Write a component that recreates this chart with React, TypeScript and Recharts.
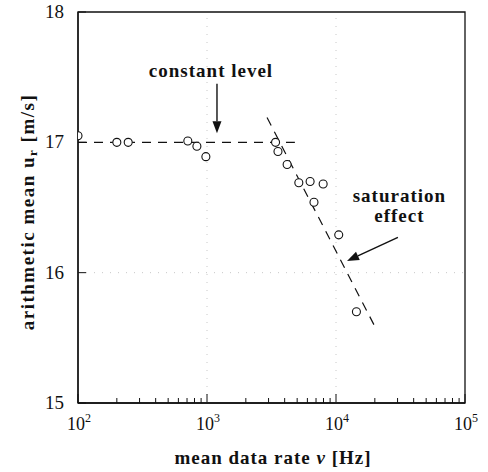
import React from 'react';
import {
  ComposedChart, Scatter, Line, XAxis, YAxis, ReferenceLine, ReferenceArea, ReferenceDot, Label
} from 'recharts';

// measured points (mean data rate in Hz, arithmetic mean in m/s)
const rates = [100, 200, 245, 710, 835, 980, 3400, 3550, 4180, 5150, 6300, 7950, 6750, 10500, 14400];
const means = [17.05, 17.0, 17.0, 17.01, 16.97, 16.89, 17.0, 16.93, 16.83, 16.69, 16.7, 16.68, 16.54, 16.29, 15.7];

// dashed guide lines
const levelX = [100, 4800];
const levelY = [17, 17];
const slopeX = [2920, 19700];
const slopeY = [17.19, 15.6];

const xTicks = [
  100, 200, 300, 400, 500, 600, 700, 800, 900,
  1000, 2000, 3000, 4000, 5000, 6000, 7000, 8000, 9000,
  10000, 20000, 30000, 40000, 50000, 60000, 70000, 80000, 90000,
  100000,
];
const yTicks = [15, 16, 17, 18];

const points = rates.map((x, i) => ({ x, y: means[i] }));
const levelLine = levelX.map((x, i) => ({ x, y: levelY[i] }));
const slopeLine = slopeX.map((x, i) => ({ x, y: slopeY[i] }));

const txt: React.CSSProperties = { fontFamily: 'Liberation Serif, Times New Roman, DejaVu Serif, serif', fill: '#111' };
const bold: React.CSSProperties = { ...txt, fontWeight: 'bold', fontSize: 19, letterSpacing: 1 };

const XTick = (props: any) => {
  const { x, y, payload } = props;
  const v = payload.value;
  const exp = Math.round(Math.log10(v));
  const major = Math.abs(Math.log10(v) - exp) < 1e-6;
  return (
    <g>
      <line x1={x} y1={y} x2={x} y2={y - (major ? 9 : 5)} stroke="#111" strokeWidth={1} />
      {major && (
        <text x={x + 1} y={y + 27} textAnchor="middle" style={{ ...txt, fontSize: 18 }}>
          10<tspan dy={-8} style={{ fontSize: 12 }}>{exp}</tspan>
        </text>
      )}
    </g>
  );
};

const YTick = (props: any) => {
  const { x, y, payload } = props;
  return (
    <g>
      <line x1={x} y1={y} x2={x + 8} y2={y} stroke="#111" strokeWidth={1} />
      <text x={x - 14} y={y + 6} textAnchor="end" style={{ ...txt, fontSize: 19 }}>
        {payload.value}
      </text>
    </g>
  );
};

const Arrow = (props: any) => {
  const { x1, y1, x2, y2 } = props;
  const a = Math.atan2(y2 - y1, x2 - x1);
  const len = 12;
  const w = 4.5;
  const bx = x2 - len * Math.cos(a);
  const by = y2 - len * Math.sin(a);
  const px = -Math.sin(a) * w;
  const py = Math.cos(a) * w;
  return (
    <g>
      <line x1={x1} y1={y1} x2={bx} y2={by} stroke="#111" strokeWidth={1.4} />
      <polygon points={`${x2},${y2} ${bx + px},${by + py} ${bx - px},${by - py}`} fill="#111" />
    </g>
  );
};

const Circle = (props: any) => (
  <circle cx={props.cx} cy={props.cy} r={4} fill="#fff" stroke="#111" strokeWidth={1.1} />
);

const App = () => (
  <div style={{ position: 'absolute', left: 0, top: 0, background: '#fff' }}>
    <ComposedChart width={488} height={472} margin={{ top: 12, right: 23, left: 0, bottom: 0 }}>
      <XAxis
        dataKey="x"
        type="number"
        scale="log"
        domain={[100, 100000]}
        ticks={xTicks}
        interval={0}
        allowDataOverflow
        height={69}
        tickLine={false}
        tickSize={0}
        tickMargin={0}
        tick={<XTick />}
        axisLine={{ stroke: '#111', strokeWidth: 1.3 }}
      >
        <Label
          content={() => (
            <text x={273} y={464} textAnchor="middle" style={bold}>
              mean data rate <tspan style={{ fontStyle: 'italic' }}>ν</tspan> [Hz]
            </text>
          )}
        />
      </XAxis>
      <YAxis
        type="number"
        domain={[15, 18]}
        ticks={yTicks}
        allowDataOverflow
        width={78}
        tickLine={false}
        tickSize={0}
        tickMargin={0}
        tick={<YTick />}
        axisLine={{ stroke: '#111', strokeWidth: 1.3 }}
      >
        <Label
          content={() => (
            <text
              x={27}
              y={212}
              transform="rotate(-90 27 212)"
              textAnchor="middle"
              dominantBaseline="central"
              style={{ ...bold, letterSpacing: 1.5 }}
            >
              arithmetic mean u<tspan dy={5} style={{ fontSize: 13 }}>r</tspan>
              <tspan dy={-5}> [m/s]</tspan>
            </text>
          )}
        />
      </YAxis>

      <ReferenceLine x={1000} stroke="#c8c8c8" strokeDasharray="1 7" />
      <ReferenceLine x={10000} stroke="#c8c8c8" strokeDasharray="1 7" />
      <ReferenceLine y={16} stroke="#c8c8c8" strokeDasharray="1 7" />
      <ReferenceArea x1={100} x2={100000} y1={15} y2={18} fill="none" stroke="#111" strokeWidth={1.3} />

      <Line data={levelLine} dataKey="y" type="linear" stroke="#111" strokeWidth={1.2} strokeDasharray="9 7" dot={false} isAnimationActive={false} />
      <Line data={slopeLine} dataKey="y" type="linear" stroke="#111" strokeWidth={1.2} strokeDasharray="9 7" dot={false} isAnimationActive={false} />
      <Scatter data={points} dataKey="y" shape={<Circle />} isAnimationActive={false} />

      <ReferenceLine segment={[{ x: 1195, y: 17.45 }, { x: 1195, y: 17.07 }]} shape={<Arrow />} />
      <ReferenceLine segment={[{ x: 30200, y: 16.27 }, { x: 12170, y: 16.09 }]} shape={<Arrow />} />

      <ReferenceDot
        x={1074}
        y={17.5}
        r={0}
        shape={(p: any) => (
          <text x={p.cx} y={p.cy} textAnchor="middle" style={bold}>
            constant level
          </text>
        )}
      />
      <ReferenceDot
        x={31000}
        y={16.54}
        r={0}
        shape={(p: any) => (
          <text x={p.cx} y={p.cy} textAnchor="middle" style={bold}>
            saturation
            <tspan x={p.cx} dy={20}>effect</tspan>
          </text>
        )}
      />
    </ComposedChart>
  </div>
);

export default App;
